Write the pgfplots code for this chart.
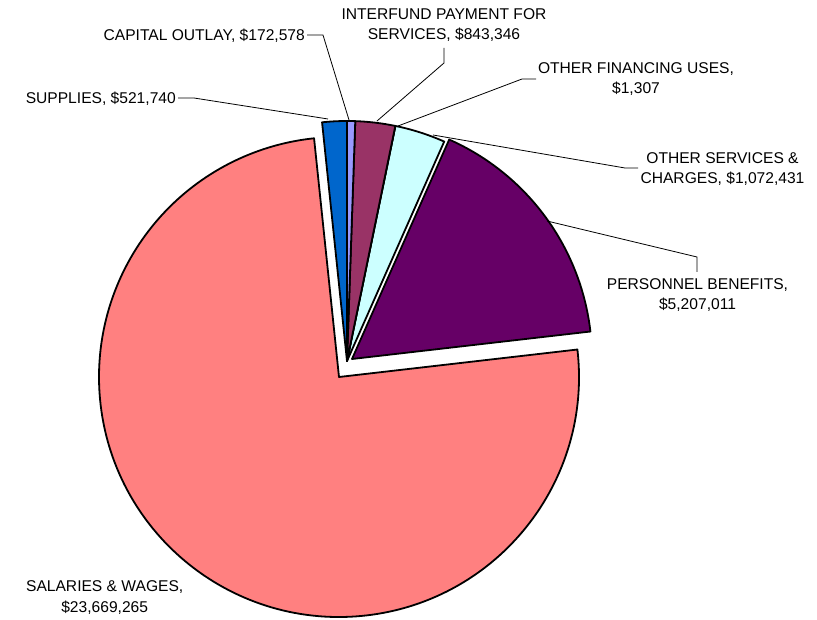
\documentclass[border=0pt]{standalone}
\usepackage{pgfplots}
\pgfplotsset{compat=1.18}
\usepackage{fontspec}
\setmainfont{Liberation Sans}
\definecolor{cCap}{HTML}{9999FF}
\definecolor{cInt}{HTML}{993366}
\definecolor{cFin}{HTML}{FFFFCC}
\definecolor{cSvc}{HTML}{CCFFFF}
\definecolor{cPer}{HTML}{660066}
\definecolor{cSal}{HTML}{FF8080}
\definecolor{cSup}{HTML}{0066CC}
% values in millions of dollars
\def\vCap{0.172578}
\def\vInt{0.843346}
\def\vFin{0.001307}
\def\vSvc{1.072431}
\def\vPer{5.207011}
\def\vSal{23.669265}
\def\vSup{0.521740}
\newcommand\slice[5]{\draw[line width=1.8pt, fill=#5, line join=round] (axis cs:#1,-#2) -- ++(#3:240pt) arc[start angle=#3, end angle=#4, radius=240pt] -- cycle;}
\newcommand\lbl[4][base]{\node[anchor=#1, inner sep=0pt, font=\fontsize{15.6}{19}\selectfont] at (axis cs:#2,-#3) {#4};}
\begin{document}
\begin{tikzpicture}
\pgfmathsetmacro\T{\vCap+\vInt+\vFin+\vSvc+\vPer+\vSal+\vSup}
\pgfmathsetmacro\aA{90}
\pgfmathsetmacro\aB{\aA-360*\vCap/\T}
\pgfmathsetmacro\aC{\aB-360*\vInt/\T}
\pgfmathsetmacro\aD{\aC-360*\vFin/\T}
\pgfmathsetmacro\aE{\aD-360*\vSvc/\T}
\pgfmathsetmacro\aF{\aE-360*\vPer/\T}
\pgfmathsetmacro\aG{\aF-360*\vSal/\T}
\pgfmathsetmacro\aH{\aG-360*\vSup/\T}
\path[use as bounding box] (0,0) rectangle (817pt,619pt);
\begin{axis}[hide axis, scale only axis, width=817pt, height=619pt,
  xmin=0, xmax=817, ymin=-619, ymax=0, clip=false]
% slices
\slice{339}{377}{\aF}{\aG}{cSal}
\slice{352}{359}{\aE}{\aF}{cPer}
\slice{347}{361}{\aD}{\aE}{cSvc}
\slice{347}{361}{\aC}{\aD}{cFin}
\slice{347}{361}{\aB}{\aC}{cInt}
\slice{347}{361}{\aA}{\aB}{cCap}
\slice{347}{361}{\aG}{\aH}{cSup}
% leader lines
\draw[line width=0.8pt] (axis cs:178,-98) -- (axis cs:194,-98) -- (axis cs:328,-119);
\draw[line width=0.8pt] (axis cs:307,-35) -- (axis cs:323,-35) -- (axis cs:349,-120);
\draw[line width=0.8pt] (axis cs:444,-48) -- (axis cs:444,-63) -- (axis cs:377,-121);
\draw[line width=0.8pt] (axis cs:536,-79) -- (axis cs:522,-79) -- (axis cs:398,-126);
\draw[line width=0.8pt] (axis cs:638,-168) -- (axis cs:625,-168) -- (axis cs:433,-135);
\draw[line width=0.8pt] (axis cs:697,-272) -- (axis cs:697,-257) -- (axis cs:547,-221);
% labels
\lbl[base east]{176}{104}{SUPPLIES, \$521,740}
\lbl[base east]{305}{40.7}{CAPITAL OUTLAY, \$172,578}
\lbl{444}{20}{INTERFUND PAYMENT FOR}
\lbl{444}{40}{SERVICES, \$843,346}
\lbl{636}{73.5}{OTHER FINANCING USES,}
\lbl{636}{94}{\$1,307}
\lbl{722.5}{164}{OTHER SERVICES \&}
\lbl{722.5}{184}{CHARGES, \$1,072,431}
\lbl{697.5}{290}{PERSONNEL BENEFITS,}
\lbl{697.5}{310}{\$5,207,011}
\lbl{104.7}{591.7}{SALARIES \& WAGES,}
\lbl{104.7}{612.7}{\$23,669,265}
\end{axis}
\end{tikzpicture}
\end{document}
